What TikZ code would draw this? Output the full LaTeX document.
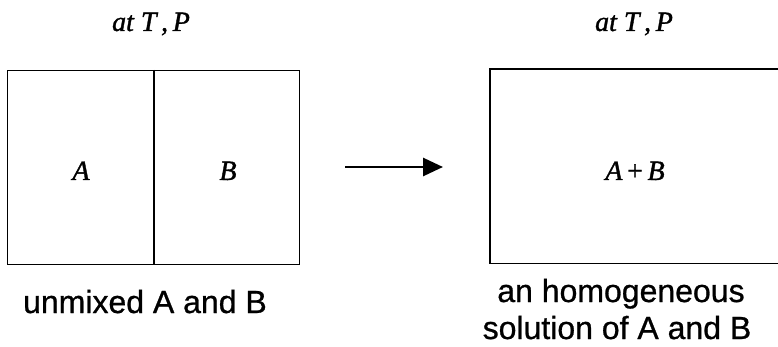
\documentclass[tikz,border=0pt]{standalone}
\usepackage{fontspec}
\setmainfont{Liberation Serif}
\setsansfont{Liberation Sans}
\newfontfamily\heavyserif[FakeBold=1.3]{Liberation Serif}
\newfontfamily\heavysans[FakeBold=0.8]{Liberation Sans}
\usetikzlibrary{arrows.meta}
\begin{document}
\begin{tikzpicture}[x=1pt,y=-1pt,
  boxstyle/.style={draw=black, line width=1.4pt, inner sep=0pt, anchor=north west},
  openbox/.style={inner sep=0pt, anchor=north west},
  ital/.style={font=\fontsize{28}{32}\heavyserif\itshape, inner sep=0pt, anchor=base},
  caption/.style={font=\fontsize{32}{36}\heavysans, inner sep=0pt, anchor=base, align=center},
  arrowstyle/.style={line width=2.8pt, -{Triangle[length=20pt,width=18pt]}}
]
\useasboundingbox (0,0) rectangle (778,347);
% left box
\node[boxstyle, minimum width=292pt, minimum height=194pt] (L) at (7,70) {};
\coordinate (Ltop) at (153.5,70);
\coordinate (Lbot) at (153.5,264);
\draw[line width=2pt] (Ltop) -- (Lbot);
% right box (its right side lies past the picture's edge)
\node[openbox, minimum width=310pt, minimum height=194pt] (R) at (490,69) {};
\draw[line width=1.4pt] (R.north east) -- (R.north west) -- (R.south west) -- (R.south east);
% top labels
\node[ital] (t1) at (151,31) {at T\,,\,P};
\node[ital] (t2) at (634,31) {at T\,,\,P};
% inner labels
\node[ital] (a) at (81,180) {A};
\node[ital] (b) at (228,180) {B};
\node[ital] (ab) at (635,180) {A\,{\upshape +}\,B};
% arrow
\coordinate (s) at (345,167);
\coordinate (e) at (443,167);
\draw[arrowstyle] (s) -- (e);
% captions
\node[caption] (c1) at (145,313) {unmixed A and B};
\node[caption] (c2) at (621,302) {an homogeneous};
\node[caption] (c3) at (617,339) {solution of A and B};
\end{tikzpicture}
\end{document}
